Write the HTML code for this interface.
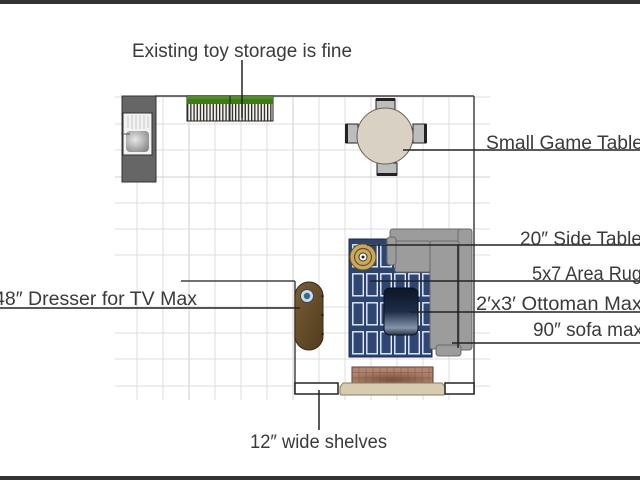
<!DOCTYPE html>
<html>
<head>
<meta charset="utf-8">
<style>
html,body{margin:0;padding:0;background:#fff;}
svg{display:block;}
text{font-family:"Liberation Sans",sans-serif;fill:#3a3a3a;font-size:19px;}
</style>
</head>
<body>
<svg width="640" height="480" viewBox="0 0 640 480" xmlns="http://www.w3.org/2000/svg">
<defs>
  <pattern id="rugp" patternUnits="userSpaceOnUse" x="352" y="244" width="14" height="29">
    <rect x="0.8" y="0.8" width="10.5" height="22" fill="#2e4673" stroke="#e8eef8" stroke-width="1.4"/>
  </pattern>
  <pattern id="toyp" patternUnits="userSpaceOnUse" x="187" y="104" width="3.2" height="20">
    <rect x="0" y="0" width="3.2" height="20" fill="#f4f0ea"/>
    <rect x="0" y="0" width="1.3" height="20" fill="#2a2a2a"/>
  </pattern>
  <pattern id="brickp" patternUnits="userSpaceOnUse" x="352" y="367" width="7" height="5.5">
    <rect x="0" y="0" width="7" height="5.5" fill="none" stroke="#7a5444" stroke-width="0.5"/>
  </pattern>
  <linearGradient id="ott" x1="0" y1="0" x2="0" y2="1">
    <stop offset="0" stop-color="#0e1626"/>
    <stop offset="0.5" stop-color="#1e2c46"/>
    <stop offset="0.85" stop-color="#8494aa"/>
    <stop offset="1" stop-color="#2a3244"/>
  </linearGradient>
  <linearGradient id="dres" x1="0" y1="0" x2="1" y2="1">
    <stop offset="0" stop-color="#7a5e36"/>
    <stop offset="1" stop-color="#4e3b1c"/>
  </linearGradient>
  <radialGradient id="basin" cx="0.4" cy="0.4" r="0.7">
    <stop offset="0" stop-color="#e8e8e8"/>
    <stop offset="1" stop-color="#8a8a8a"/>
  </radialGradient>
  <radialGradient id="brk" cx="0.5" cy="0.8" r="0.6">
    <stop offset="0" stop-color="#7a5040"/>
    <stop offset="1" stop-color="#b08670"/>
  </radialGradient>
</defs>

<!-- borders -->
<rect x="0" y="0" width="640" height="4" fill="#333"/>
<rect x="0" y="476" width="640" height="4" fill="#333"/>

<!-- grid -->
<g stroke="#dcdcdc" stroke-width="1">
  <line x1="137" y1="96" x2="137" y2="400"/>
  <line x1="163" y1="96" x2="163" y2="400"/>
  <line x1="189" y1="96" x2="189" y2="400" stroke="#cfcfcf"/>
  <line x1="215" y1="96" x2="215" y2="400"/>
  <line x1="241" y1="96" x2="241" y2="400"/>
  <line x1="267" y1="96" x2="267" y2="400"/>
  <line x1="293" y1="96" x2="293" y2="400" stroke="#cfcfcf"/>
  <line x1="319" y1="96" x2="319" y2="400"/>
  <line x1="345" y1="96" x2="345" y2="400"/>
  <line x1="371" y1="96" x2="371" y2="400"/>
  <line x1="397" y1="96" x2="397" y2="400"/>
  <line x1="423" y1="96" x2="423" y2="400"/>
  <line x1="449" y1="96" x2="449" y2="400"/>
  <line x1="115" y1="97" x2="490" y2="97"/>
  <line x1="115" y1="124" x2="490" y2="124"/>
  <line x1="115" y1="150" x2="490" y2="150"/>
  <line x1="115" y1="177" x2="490" y2="177" stroke="#cfcfcf"/>
  <line x1="115" y1="203" x2="490" y2="203"/>
  <line x1="115" y1="229" x2="490" y2="229"/>
  <line x1="115" y1="255" x2="490" y2="255"/>
  <line x1="115" y1="307" x2="490" y2="307"/>
  <line x1="115" y1="333" x2="490" y2="333"/>
  <line x1="115" y1="359" x2="490" y2="359"/>
  <line x1="115" y1="386" x2="490" y2="386"/>
</g>

<!-- room walls -->
<g stroke="#444" stroke-width="1.5" fill="none">
  <line x1="155" y1="96" x2="474" y2="96"/>
  <line x1="474" y1="96" x2="474" y2="394"/>
  <line x1="181" y1="281" x2="295" y2="281"/>
  <line x1="295" y1="281" x2="295" y2="394"/>
</g>

<!-- kitchen counter + sink -->
<rect x="122" y="96" width="34" height="86" fill="#666" stroke="#333" stroke-width="1"/>
<rect x="123" y="113" width="29" height="42" fill="#f2f2f2" stroke="#333" stroke-width="1"/>
<g stroke="#c8c8c8" stroke-width="1">
  <line x1="128" y1="116" x2="128" y2="128"/><line x1="132" y1="115" x2="132" y2="129"/>
  <line x1="136" y1="115" x2="136" y2="129"/><line x1="140" y1="115" x2="140" y2="129"/>
  <line x1="144" y1="115" x2="144" y2="129"/><line x1="148" y1="116" x2="148" y2="128"/>
</g>
<rect x="126" y="131" width="23" height="21" rx="4" fill="url(#basin)"/>
<line x1="121" y1="134" x2="130" y2="134" stroke="#555" stroke-width="1"/>

<!-- toy storage -->
<rect x="187" y="96" width="86" height="25" fill="url(#toyp)" stroke="#222" stroke-width="1"/>
<rect x="187" y="96" width="86" height="8" fill="#3e7a18"/>
<rect x="187" y="96" width="86" height="3" fill="#4e8e24"/>
<line x1="230" y1="96" x2="230" y2="121" stroke="#222" stroke-width="1"/>
<line x1="242" y1="60" x2="242" y2="118" stroke="#222" stroke-width="1.5"/>

<!-- game table -->
<g stroke="#222" stroke-width="1">
  <rect x="376" y="99" width="19" height="12" fill="#bdbdbd"/>
  <rect x="377" y="163" width="20" height="12" fill="#bdbdbd"/>
  <rect x="346" y="124" width="12" height="19" fill="#bdbdbd"/>
  <rect x="413" y="124" width="13" height="19" fill="#bdbdbd"/>
</g>
<rect x="376" y="98" width="19" height="3" fill="#222"/>
<rect x="377" y="173" width="20" height="3" fill="#222"/>
<rect x="345" y="124" width="3" height="19" fill="#222"/>
<rect x="424" y="124" width="3" height="19" fill="#222"/>
<circle cx="385" cy="136" r="28" fill="#d9d1c4" stroke="#6a6050" stroke-width="1"/>
<line x1="403" y1="150" x2="640" y2="150" stroke="#222" stroke-width="1.5"/>

<!-- rug -->
<rect x="349" y="239" width="83" height="118" fill="#2c4470" stroke="#1a2a48" stroke-width="1"/>
<rect x="351" y="241" width="80" height="115" fill="url(#rugp)"/>

<!-- side table -->
<circle cx="363" cy="257" r="13" fill="#c9a95e" stroke="#6a5020" stroke-width="1"/>
<circle cx="363" cy="257" r="8.5" fill="none" stroke="#6a5020" stroke-width="1.2"/>
<circle cx="363" cy="257" r="4" fill="#fff" stroke="#333" stroke-width="1"/>
<circle cx="363" cy="257" r="1.5" fill="#222"/>

<!-- sofa -->
<g fill="#9c9c9c" stroke="#6a6a6a" stroke-width="1">
  <rect x="390" y="229" width="82" height="13" rx="3"/>
  <rect x="458" y="229" width="14" height="121" rx="3"/>
  <rect x="395" y="241" width="35" height="31" rx="2"/>
  <rect x="430" y="241" width="29" height="108" rx="2"/>
  <rect x="387" y="237" width="9" height="28" rx="3"/>
  <rect x="436" y="345" width="25" height="11" rx="3"/>
</g>
<line x1="458" y1="245" x2="458" y2="348" stroke="#222" stroke-width="1.5"/>

<!-- ottoman -->
<rect x="384" y="288" width="34" height="47" rx="6" fill="url(#ott)" stroke="#0a0f1a" stroke-width="1"/>

<!-- leaders right -->
<g stroke="#222" stroke-width="1.5">
  <line x1="367" y1="245" x2="640" y2="245"/>
  <line x1="370" y1="281" x2="640" y2="281"/>
  <line x1="410" y1="312" x2="640" y2="312"/>
  <line x1="452" y1="343" x2="640" y2="343"/>
</g>

<!-- dresser -->
<rect x="295" y="282" width="28" height="68" rx="14" fill="url(#dres)" stroke="#3a2a10" stroke-width="1"/>
<circle cx="307" cy="296" r="6.5" fill="#c8dcec" stroke="#445" stroke-width="1"/>
<circle cx="307" cy="296" r="3.2" fill="#3a6a80"/>
<g fill="#222">
  <circle cx="322.5" cy="296" r="1.3"/><circle cx="322.5" cy="315" r="1.3"/><circle cx="322.5" cy="334" r="1.3"/>
</g>
<line x1="0" y1="308" x2="300" y2="308" stroke="#222" stroke-width="1.5"/>

<!-- fireplace -->
<rect x="352" y="367" width="81" height="16" fill="url(#brk)" stroke="#5a3a2a" stroke-width="1"/>
<rect x="352" y="367" width="81" height="16" fill="url(#brickp)"/>
<path d="M343 383 L442 383 L445 387 L445 393 Q445 395 443 395 L342 395 Q340 395 340 393 L340 387 Z" fill="#d8ccb0" stroke="#8a7a60" stroke-width="1"/>

<!-- shelves -->
<rect x="295" y="383" width="43" height="11" fill="#fff" stroke="#222" stroke-width="1.5"/>
<rect x="445" y="383" width="29" height="11" fill="#fff" stroke="#222" stroke-width="1.5"/>
<line x1="319" y1="390" x2="319" y2="430" stroke="#222" stroke-width="1.5"/>

<!-- labels -->
<text x="132" y="57" textLength="220" lengthAdjust="spacingAndGlyphs">Existing toy storage is fine</text>
<text x="486" y="149" textLength="157" lengthAdjust="spacingAndGlyphs">Small Game Table</text>
<text x="520" y="245" textLength="122" lengthAdjust="spacingAndGlyphs">20″ Side Table</text>
<text x="532" y="280" textLength="110" lengthAdjust="spacingAndGlyphs">5x7 Area Rug</text>
<text x="476" y="310" textLength="166" lengthAdjust="spacingAndGlyphs">2′x3′ Ottoman Max</text>
<text x="533" y="336" textLength="110" lengthAdjust="spacingAndGlyphs">90″ sofa max</text>
<text x="-6" y="305" textLength="203" lengthAdjust="spacingAndGlyphs">48″ Dresser for TV Max</text>
<text x="250" y="448" textLength="137" lengthAdjust="spacingAndGlyphs">12″ wide shelves</text>
</svg>
</body>
</html>
